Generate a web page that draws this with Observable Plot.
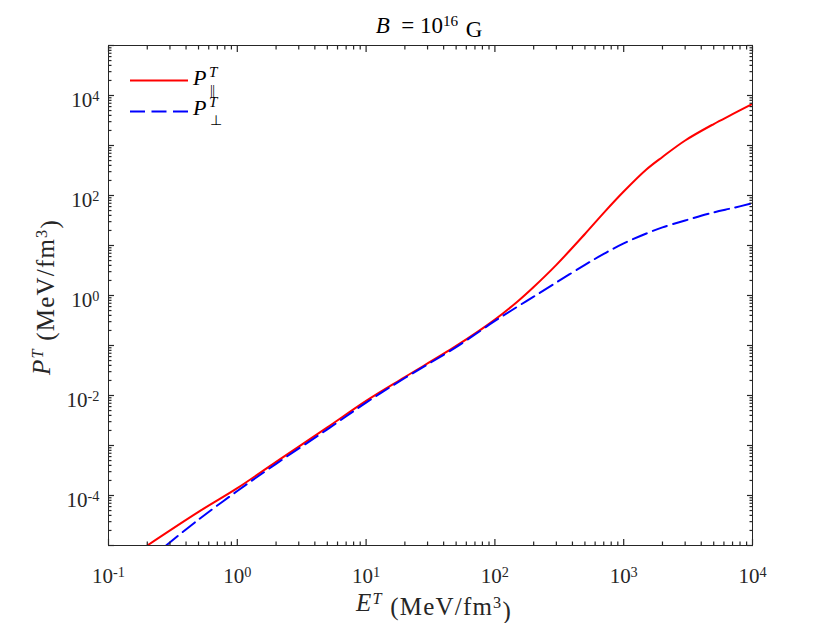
<!DOCTYPE html>
<html>
<head>
<meta charset="utf-8">
<script src="https://cdn.jsdelivr.net/npm/d3@7"></script>
<script src="https://cdn.jsdelivr.net/npm/@observablehq/plot@0.6"></script>
<style>
  body { margin: 0; background: white; }
  #chart svg { display: block; }
</style>
</head>
<body>
<div id="chart"></div>
<script>
// Energy density E^T (MeV/fm^3) and pressures (MeV/fm^3)
const E_par = [0.2, 0.5, 1, 2, 5, 10, 20, 50, 100, 150, 200, 300, 500, 700, 1000, 1500, 2000, 3000, 5000, 7000, 10000];
const P_par = [1.0e-5, 4.7e-5, 1.4e-4, 4.7e-4, 2.3e-3, 7.8e-3, 0.0234, 0.098, 0.33, 0.76, 1.48, 4.1, 17, 45, 120, 331, 590, 1260, 2690, 4220, 6820];
const E_perp = [0.28, 0.5, 1, 2, 5, 10, 20, 50, 100, 150, 200, 300, 500, 700, 1000, 1500, 2000, 3000, 5000, 7000, 10000];
const P_perp = [1.0e-5, 3.3e-5, 1.23e-4, 4.3e-4, 2.1e-3, 7.2e-3, 0.0224, 0.093, 0.31, 0.6, 0.95, 1.82, 4.1, 6.8, 11, 17.4, 23, 31.6, 46, 56, 70];

const xMajor = [0.1, 1, 10, 100, 1000, 10000];
const yMajor = [1e-4, 1e-2, 1, 1e2, 1e4];
const yMajorTicks = [1e-5, 1e-4, 1e-3, 1e-2, 1e-1, 1, 10, 1e2, 1e3, 1e4, 1e5];

const xMinor = [];
for (let k = -1; k < 4; k++) for (let m = 2; m <= 9; m++) xMinor.push(m * Math.pow(10, k));
const yMinor = [];
for (let k = -5; k < 5; k++) for (let m = 2; m <= 9; m++) yMinor.push(m * Math.pow(10, k));

const par = E_par.map((e, i) => ({E: e, P: P_par[i]}));
const perp = E_perp.map((e, i) => ({E: e, P: P_perp[i]}));

const fmt = d => `10^${Math.round(Math.log10(d))}`;
const blank = () => "";
const ink = "#262626";
const major = 6, minor = 3.5;

// inward ticks: outward axis ticks shifted back inside the frame
const inX = (anchor, ticks, len) => Plot.axisX({anchor, ticks, tickSize: len, tickPadding: 0, dy: anchor === "bottom" ? -len : len, tickFormat: blank, label: null, stroke: ink, strokeWidth: 1.2});
const inY = (anchor, ticks, len) => Plot.axisY({anchor, ticks, tickSize: len, tickPadding: 0, dx: anchor === "left" ? len : -len, tickFormat: blank, label: null, stroke: ink, strokeWidth: 1.2});

const plot = Plot.plot({
  width: 830,
  height: 623,
  marginLeft: 108,
  marginRight: 78,
  marginTop: 45,
  marginBottom: 78,
  x: {type: "log", domain: [0.1, 1e4]},
  y: {type: "log", domain: [1e-5, 1e5]},
  style: {fontFamily: "'Liberation Serif', serif", fontSize: "21px", color: ink, background: "white"},
  marks: [
    Plot.line(par, {x: "E", y: "P", stroke: "#ff0000", strokeWidth: 2, curve: "catmull-rom", clip: true}),
    Plot.line(perp, {x: "E", y: "P", stroke: "#0000ff", strokeWidth: 2, strokeDasharray: "15,6.5", curve: "catmull-rom", clip: true}),
    // tick labels
    Plot.axisX({anchor: "bottom", ticks: xMajor, tickSize: 0, tickPadding: 23, tickFormat: fmt, label: null, fontSize: 21, fill: ink}),
    Plot.axisY({anchor: "left", ticks: yMajor, tickSize: 0, tickPadding: 9, dy: 5, tickFormat: fmt, label: null, fontSize: 21, fill: ink}),
    // inward ticks on all four sides
    inX("bottom", xMajor, major), inX("top", xMajor, major),
    inX("bottom", xMinor, minor), inX("top", xMinor, minor),
    inY("left", yMajorTicks, major), inY("right", yMajorTicks, major),
    inY("left", yMinor, minor), inY("right", yMinor, minor),
    Plot.frame({stroke: ink, strokeWidth: 1})
  ]
});

document.getElementById("chart").appendChild(plot);

const svg = d3.select(plot);
// superscript exponents in tick labels
svg.selectAll("text").each(function () {
  const m = this.textContent.match(/^10\^(-?\d+)$/);
  if (m) {
    const t = d3.select(this);
    t.text("");
    t.attr("font-size", 21);
    t.append("tspan").text("10");
    t.append("tspan").attr("dy", "-0.45em").attr("font-size", "0.68em").text(m[1]);
  }
});

const font = "'Liberation Serif', serif";

// title
const title = svg.append("text").attr("x", 429).attr("y", 33).attr("text-anchor", "middle")
  .attr("font-family", font).attr("font-size", 23).attr("fill", "black");
title.append("tspan").attr("font-style", "italic").text("B");
title.append("tspan").text("\u2002=\u200510");
title.append("tspan").attr("dy", "-0.45em").attr("font-size", "0.66em").text("16");
title.append("tspan").attr("dy", "0.45em").text("\u2004G");

// x axis label
const xl = svg.append("text").attr("x", 434).attr("y", 611).attr("text-anchor", "middle")
  .attr("font-family", font).attr("font-size", 25).attr("letter-spacing", 1.2).attr("fill", ink);
xl.append("tspan").attr("font-style", "italic").text("E");
xl.append("tspan").attr("dy", "-0.45em").attr("font-size", "0.65em").attr("font-style", "italic").text("T");
xl.append("tspan").attr("dy", "0.45em").text(" (MeV/fm");
xl.append("tspan").attr("dy", "-0.45em").attr("font-size", "0.65em").text("3");
xl.append("tspan").attr("dy", "0.45em").text(")");

// y axis label
const yl = svg.append("text").attr("transform", "translate(50,297) rotate(-90)").attr("text-anchor", "middle")
  .attr("font-family", font).attr("font-size", 25).attr("letter-spacing", 1.2).attr("fill", ink);
yl.append("tspan").attr("font-style", "italic").text("P");
yl.append("tspan").attr("dy", "-0.45em").attr("font-size", "0.65em").attr("font-style", "italic").text("T");
yl.append("tspan").attr("dy", "0.45em").text(" (MeV/fm");
yl.append("tspan").attr("dy", "-0.45em").attr("font-size", "0.65em").text("3");
yl.append("tspan").attr("dy", "0.45em").text(")");

// legend
const leg = svg.append("g").attr("text-anchor", "start");
leg.append("line").attr("x1", 130).attr("x2", 188).attr("y1", 80.5).attr("y2", 80.5)
  .attr("stroke", "#ff0000").attr("stroke-width", 2);
leg.append("line").attr("x1", 130).attr("x2", 188).attr("y1", 111.5).attr("y2", 111.5)
  .attr("stroke", "#0000ff").attr("stroke-width", 2).attr("stroke-dasharray", "15,6.5");
function legLabel(y, sub, subSpacing) {
  leg.append("text").attr("x", 193).attr("y", y).attr("font-family", font).attr("font-size", 22)
    .attr("font-style", "italic").attr("fill", "black").text("P");
  leg.append("text").attr("x", 209).attr("y", y - 8).attr("font-family", font).attr("font-size", 15)
    .attr("font-style", "italic").attr("fill", "black").text("T");
  leg.append("text").attr("x", 210).attr("y", y + 10).attr("font-family", font).attr("font-size", 14)
    .attr("letter-spacing", subSpacing).attr("fill", "black").text(sub);
}
legLabel(85, "||", -0.5);
legLabel(115, "\u22A5", 0);
</script>
</body>
</html>
